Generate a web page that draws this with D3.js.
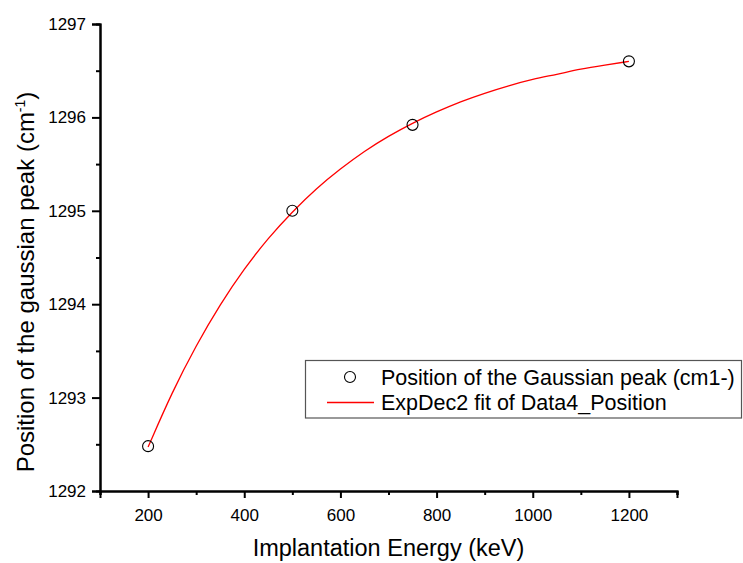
<!DOCTYPE html>
<html>
<head>
<meta charset="utf-8">
<script src="https://cdn.jsdelivr.net/npm/d3@7"></script>
<style>
  html, body { margin: 0; padding: 0; background: #fff; }
  svg { display: block; font-family: "Liberation Sans", Arial, sans-serif; }
</style>
</head>
<body>
<svg id="chart" width="743" height="563"></svg>
<script>
// Measured peak positions
const energy = [200, 500, 750, 1200];
const peakPos = [1292.48, 1295.0, 1295.92, 1296.6];

// ExpDec2 fit curve, sampled every 50 keV
const fitEnergy = [200, 250, 300, 350, 400, 450, 500, 550, 600, 650, 700,
                   750, 800, 850, 900, 950, 1000, 1050, 1100, 1150, 1200];
const fitPos = [1292.47, 1293.06, 1293.56, 1294.00, 1294.38, 1294.71, 1294.99,
                1295.24, 1295.45, 1295.64, 1295.80, 1295.94, 1296.06, 1296.17,
                1296.26, 1296.34, 1296.41, 1296.46, 1296.52, 1296.56, 1296.60];

// Axis ticks
const xMajorTicks = [200, 400, 600, 800, 1000, 1200];
const xMinorTicks = [100, 300, 500, 700, 900, 1100, 1300];
const yMajorTicks = [1292, 1293, 1294, 1295, 1296, 1297];
const yMinorTicks = [1292.5, 1293.5, 1294.5, 1295.5, 1296.5];

const legendLabels = ["Position of the Gaussian peak (cm1-)", "ExpDec2 fit of Data4_Position"];

const svg = d3.select("#chart");
const plotLeft = 100, plotRight = 677, plotTop = 24, plotBottom = 491;

const x = d3.scaleLinear().domain([100, 1300]).range([plotLeft, plotRight]);
const y = d3.scaleLinear().domain([1292, 1297]).range([plotBottom, plotTop]);

// Axes
const xAxis = d3.axisBottom(x).tickValues(xMajorTicks).tickSize(7).tickPadding(11).tickFormat(d3.format("d"));
const yAxis = d3.axisLeft(y).tickValues(yMajorTicks).tickSize(8).tickPadding(6).tickFormat(d3.format("d"));
const xMinor = d3.axisBottom(x).tickValues(xMinorTicks).tickSize(4).tickFormat("");
const yMinor = d3.axisLeft(y).tickValues(yMinorTicks).tickSize(4).tickFormat("");

function styleAxis(g) {
  g.select(".domain").attr("stroke", "#000").attr("stroke-width", 2);
  g.selectAll(".tick line").attr("stroke", "#000").attr("stroke-width", 2);
  g.selectAll(".tick text").attr("fill", "#000").style("font-size", "17px")
    .style("font-family", "'Liberation Sans', Arial, sans-serif");
}

svg.append("g").attr("transform", `translate(0,${plotBottom})`).call(xMinor).call(styleAxis);
svg.append("g").attr("transform", `translate(${plotLeft},0)`).call(yMinor).call(styleAxis);
svg.append("g").attr("transform", `translate(0,${plotBottom})`).call(xAxis).call(styleAxis);
svg.append("g").attr("transform", `translate(${plotLeft},0)`).call(yAxis).call(styleAxis);

// Axis titles
svg.append("text")
  .attr("x", (plotLeft + plotRight) / 2).attr("y", 556)
  .attr("text-anchor", "middle")
  .style("font-size", "23.5px")
  .text("Implantation Energy (keV)");

const yTitle = svg.append("text")
  .attr("transform", "translate(34,282) rotate(-90)")
  .attr("text-anchor", "middle")
  .style("font-size", "24px");
yTitle.append("tspan").text("Position of the gaussian peak (cm");
yTitle.append("tspan").attr("dy", -9).style("font-size", "14px").text("-1");
yTitle.append("tspan").attr("dy", 9).text(")");

// Fit line
const line = d3.line().x(d => x(d[0])).y(d => y(d[1])).curve(d3.curveBasis);
svg.append("path")
  .datum(d3.zip(fitEnergy, fitPos))
  .attr("d", line)
  .attr("fill", "none")
  .attr("stroke", "#ff0000")
  .attr("stroke-width", 1.3);

// Data points
svg.append("g").selectAll("circle")
  .data(d3.zip(energy, peakPos))
  .join("circle")
  .attr("cx", d => x(d[0]))
  .attr("cy", d => y(d[1]))
  .attr("r", 5.5)
  .attr("fill", "none")
  .attr("stroke", "#000")
  .attr("stroke-width", 1.1);

// Legend
const lg = svg.append("g");
lg.append("rect")
  .attr("x", 305.5).attr("y", 360.5).attr("width", 436).attr("height", 57.5)
  .attr("fill", "#fff").attr("stroke", "#555").attr("stroke-width", 1.2);
lg.append("circle")
  .attr("cx", 350).attr("cy", 377).attr("r", 5.5)
  .attr("fill", "none").attr("stroke", "#000").attr("stroke-width", 1.1);
lg.append("line")
  .attr("x1", 327).attr("x2", 374).attr("y1", 402.5).attr("y2", 402.5)
  .attr("stroke", "#ff0000").attr("stroke-width", 1.3);
lg.selectAll("text.lab")
  .data(legendLabels)
  .join("text")
  .attr("class", "lab")
  .attr("x", 381)
  .attr("y", (d, i) => 385 + i * 25)
  .style("font-size", "21.5px")
  .text(d => d);
</script>
</body>
</html>
